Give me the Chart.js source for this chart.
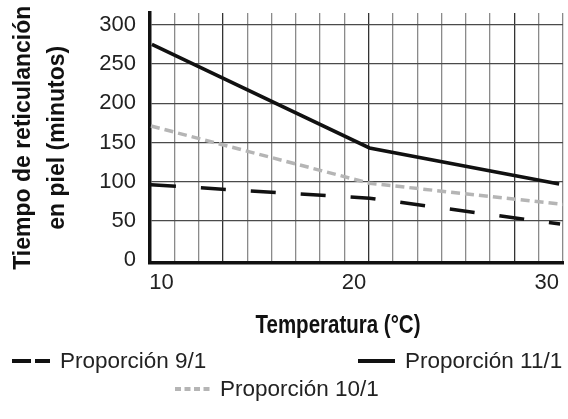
<!DOCTYPE html>
<html lang="es">
<head>
<meta charset="UTF-8">
<title>Tiempo de reticulación en piel</title>
<script src="https://cdn.jsdelivr.net/npm/chart.js"></script>
<style>
  body { margin: 0; background: #fff; }
  #wrap { position: relative; width: 568px; height: 419px; }
  #overlay { position: absolute; left: 0; top: 0; width: 568px; height: 419px; }
  .item, #xtitle {
    position: absolute; display: flex; align-items: center; height: 30px;
    font-family: "Liberation Sans", Arial, sans-serif;
    color: #222; white-space: nowrap;
  }
  .item { font-size: 22.5px; }
  .item svg { margin-right: 10px; }
  #xtitle { font-size: 25px; font-weight: bold; color: #111; transform: translateX(-50%) scaleX(0.82); }
</style>
</head>
<body>
<div id="wrap">
  <canvas id="chart"></canvas>
  <div id="overlay"></div>
</div>
<script>
// datos (x = temperatura °C, y = minutos)
const temp91 = [9.45, 20.8, 30.7];
const tiempo91 = [96, 79, 46];
const temp101 = [9.45, 20.8, 30.85];
const tiempo101 = [171, 98, 71];
const temp111 = [9.5, 20.8, 30.65];
const tiempo111 = [275, 143, 97];

const seriesNames = ["Proporción 9/1", "Proporción 10/1", "Proporción 11/1"];
const xTicks = [10, 20, 30];
const yTicks = [0, 50, 100, 150, 200, 250, 300];
const gridSteps = 17; // columnas de la cuadrícula vertical
const xTitle = "Temperatura (°C)";
const yTitle = ["Tiempo de reticulanción", "en piel (minutos)"];

const sans = '"Liberation Sans", Arial, sans-serif';

const toPoints = (xs, ys) => xs.map((x, i) => ({ x: x, y: ys[i] }));

new Chart(document.getElementById("chart"), {
  type: "line",
  data: {
    datasets: [
      {
        label: seriesNames[0],
        data: toPoints(temp91, tiempo91),
        borderColor: "#111",
        borderWidth: 3.5,
        borderDash: [25, 25],
        pointRadius: 0,
        tension: 0
      },
      {
        label: seriesNames[1],
        data: toPoints(temp101, tiempo101),
        borderColor: "#b5b5b5",
        borderWidth: 3.5,
        borderDash: [9, 5],
        pointRadius: 0,
        tension: 0
      },
      {
        label: seriesNames[2],
        data: toPoints(temp111, tiempo111),
        borderColor: "#111",
        borderWidth: 3.5,
        pointRadius: 0,
        tension: 0
      }
    ]
  },
  options: {
    responsive: true,
    maintainAspectRatio: false,
    animation: false,
    layout: { padding: { top: 13, right: 5, left: 0, bottom: 79 } },
    plugins: {
      legend: { display: false },
      tooltip: { enabled: false }
    },
    scales: {
      x: {
        type: "linear",
        position: "bottom",
        min: 9.4,
        max: 30.85,
        afterBuildTicks: (s) => { s.ticks = xTicks.map(v => ({ value: v })); },
        afterFit: (s) => { s.height = 77.5; s.paddingLeft = 0; s.paddingRight = 0; },
        grid: { display: false, drawTicks: false },
        border: { display: true, color: "#111", width: 3.5 },
        ticks: {
          padding: 7,
          color: "#222",
          font: { family: sans, size: 22 }
        }
      },
      xGrid: {
        type: "linear",
        position: "bottom",
        min: 0,
        max: gridSteps,
        afterFit: (s) => { s.height = 0; s.paddingLeft = 0; s.paddingRight = 0; },
        ticks: { display: false, stepSize: 1 },
        border: { display: false },
        grid: {
          drawTicks: false,
          lineWidth: 1.3,
          color: (c) => (c.tick && c.tick.value % 6 === 3) ? "#333" : "#8a8a8a"
        }
      },
      y: {
        type: "linear",
        min: -3,
        max: 315,
        afterBuildTicks: (s) => { s.ticks = yTicks.map(v => ({ value: v })); },
        afterFit: (s) => { s.width = 150; s.paddingTop = 0; s.paddingBottom = 0; },
        border: { display: true, color: "#111", width: 3.5 },
        grid: {
          drawTicks: false,
          lineWidth: 1.3,
          color: (c) => (c.tick && c.tick.value === 0) ? "rgba(0,0,0,0)" : "#4a4a4a"
        },
        ticks: {
          padding: 14,
          color: "#222",
          font: { family: sans, size: 22 }
        },
        title: {
          display: true,
          text: yTitle,
          color: "#111",
          padding: { top: 7, bottom: 0 },
          font: { family: sans, size: 23, weight: "bold", lineHeight: 1.48 }
        }
      }
    }
  }
});

// título del eje x y leyenda, en las posiciones del original
const overlay = document.getElementById("overlay");
const xt = document.createElement("div");
xt.id = "xtitle";
xt.style.left = "338px";
xt.style.top = "309px";
xt.textContent = xTitle;
overlay.appendChild(xt);

const legendItems = [
  { name: seriesNames[0], left: 12, top: 346, color: "#111", dash: "19 4", w: 38 },
  { name: seriesNames[2], left: 358, top: 346, color: "#111", dash: "", w: 37 },
  { name: seriesNames[1], left: 175, top: 374, color: "#b5b5b5", dash: "6 3.5", w: 35 }
];
legendItems.forEach(it => {
  const div = document.createElement("div");
  div.className = "item";
  div.style.left = it.left + "px";
  div.style.top = it.top + "px";
  div.innerHTML =
    `<svg width="${it.w}" height="10"><line x1="0" y1="5" x2="${it.w}" y2="5" stroke="${it.color}" stroke-width="4" ${it.dash ? `stroke-dasharray="${it.dash}"` : ""}/></svg>` +
    `<span>${it.name}</span>`;
  overlay.appendChild(div);
});
</script>
</body>
</html>
